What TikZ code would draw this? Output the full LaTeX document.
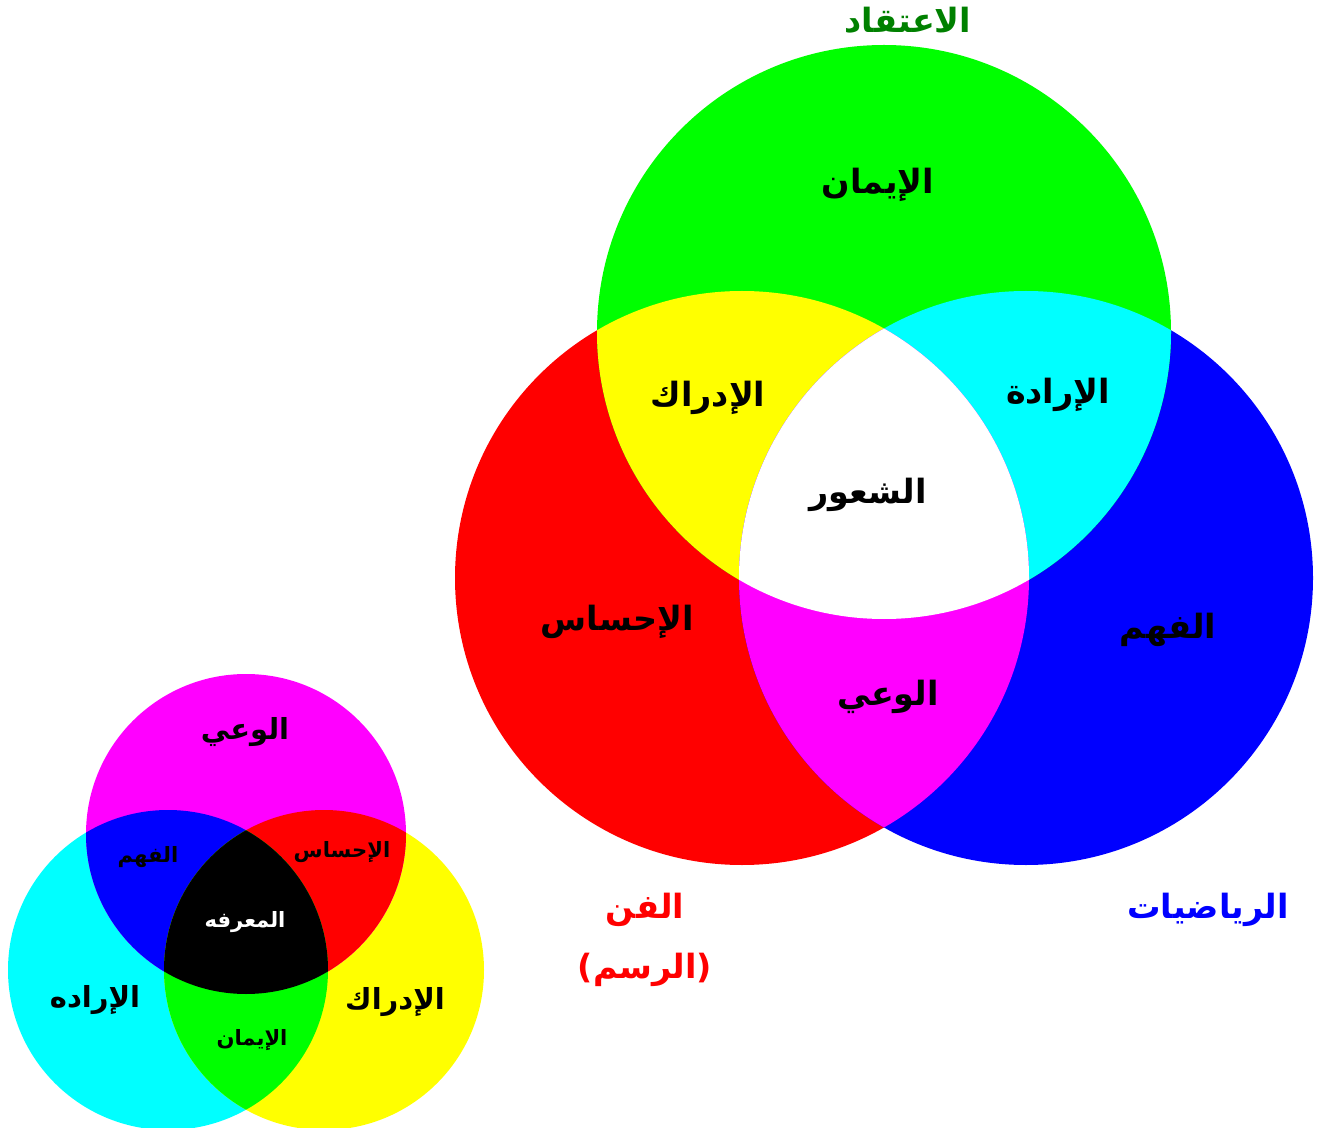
\documentclass[tikz,border=0pt]{standalone}
\usepackage{fontspec}
\usepackage{tikz}
\usepackage{xcolor}
\TeXXeTstate=1
\newfontfamily\arabicfont[Script=Arabic]{DejaVu Sans}
\definecolor{pred}{RGB}{255,0,0}
\definecolor{pgreen}{RGB}{0,255,0}
\definecolor{pblue}{RGB}{0,0,255}
\definecolor{pyellow}{RGB}{255,255,0}
\definecolor{pcyan}{RGB}{0,255,255}
\definecolor{pmagenta}{RGB}{255,0,255}
\definecolor{dgreen}{RGB}{0,128,0}

\begin{document}
\begin{tikzpicture}[x=0.02cm,y=-0.02cm,
  biglbl/.style={font=\arabicfont\bfseries\fontsize{19}{22}\selectfont},
  midlbl/.style={font=\arabicfont\bfseries\fontsize{16.5}{20}\selectfont},
  smalllbl/.style={font=\arabicfont\bfseries\fontsize{12}{14}\selectfont}]
\useasboundingbox (0,0) rectangle (1319,1128);
% centres of the circles
\coordinate (R) at (742,578);
\coordinate (G) at (884,332);
\coordinate (B) at (1026,578);
\coordinate (M) at (246,834);
\coordinate (C) at (168,970);
\coordinate (Y) at (324,970);
% big diagram: light mixing
\fill[pred] (R) circle (287);
\fill[pblue] (B) circle (287);
\fill[pgreen] (G) circle (287);
\begin{scope}
  \clip (R) circle (287);
  \fill[pyellow] (G) circle (287);
\end{scope}
\begin{scope}
  \clip (G) circle (287);
  \fill[pcyan] (B) circle (287);
\end{scope}
\begin{scope}
  \clip (R) circle (287);
  \fill[pmagenta] (B) circle (287);
\end{scope}
\begin{scope}
  \clip (R) circle (287);
  \clip (G) circle (287);
  \fill[white] (B) circle (287);
\end{scope}
% small diagram: pigment mixing
\fill[pcyan] (C) circle (160);
\fill[pyellow] (Y) circle (160);
\fill[pmagenta] (M) circle (160);
\begin{scope}
  \clip (M) circle (160);
  \fill[pblue] (C) circle (160);
\end{scope}
\begin{scope}
  \clip (M) circle (160);
  \fill[pred] (Y) circle (160);
\end{scope}
\begin{scope}
  \clip (C) circle (160);
  \fill[pgreen] (Y) circle (160);
\end{scope}
\begin{scope}
  \clip (M) circle (160);
  \clip (C) circle (160);
  \fill[black] (Y) circle (160);
\end{scope}
% labels, big diagram
\node[biglbl,text=dgreen] (belief) at (908,20) {\beginR الاعتقاد\endR};
\node[biglbl] (faith) at (878,185) {\beginR الإيمان\endR};
\node[biglbl] (percep) at (708,398) {\beginR الإدراك\endR};
\node[biglbl] (will) at (1058,395) {\beginR الإرادة\endR};
\node[biglbl] (feeling) at (868,495) {\beginR الشعور\endR};
\node[biglbl] (sense) at (617,622) {\beginR الإحساس\endR};
\node[biglbl] (underst) at (1168,630) {\beginR الفهم\endR};
\node[biglbl] (aware) at (888,697) {\beginR الوعي\endR};
\node[biglbl,text=pred] (art) at (645,910) {\beginR الفن\endR};
\node[biglbl,text=pred] (drawing) at (645,970) {\beginR (الرسم)\endR};
\node[biglbl,text=pblue] (maths) at (1208,910) {\beginR الرياضيات\endR};
% labels, small diagram
\node[midlbl] (saware) at (245,732) {\beginR الوعي\endR};
\node[smalllbl] (sunderst) at (148,857) {\beginR الفهم\endR};
\node[smalllbl] (ssense) at (342,852) {\beginR الإحساس\endR};
\node[smalllbl,text=white] (sknow) at (245,922) {\beginR المعرفه\endR};
\node[midlbl] (swill) at (95,1000) {\beginR الإراده\endR};
\node[midlbl] (spercep) at (395,1002) {\beginR الإدراك\endR};
\node[smalllbl] (sfaith) at (252,1040) {\beginR الإيمان\endR};
\end{tikzpicture}
\end{document}
